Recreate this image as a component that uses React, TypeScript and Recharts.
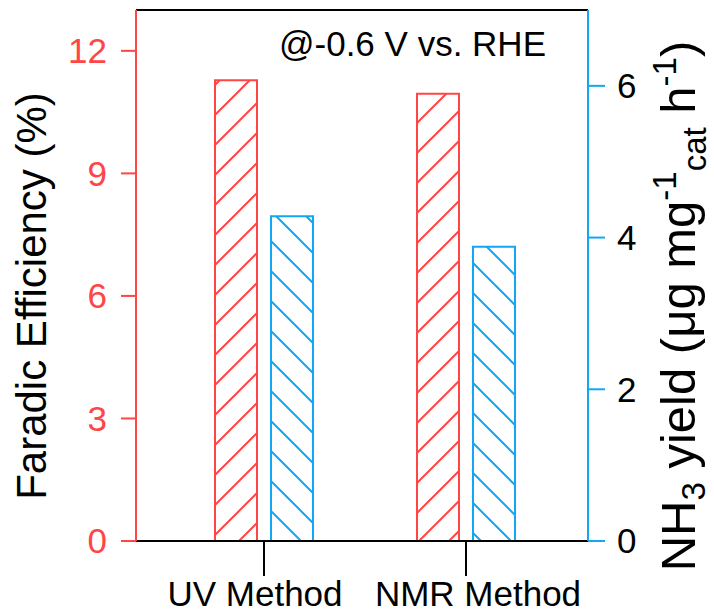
import React from 'react';
import { BarChart, Bar, XAxis, YAxis, ReferenceLine } from 'recharts';

const categories = ['UV Method', 'NMR Method'];
const faradicEfficiency = [11.28, 10.95];
const nh3Yield = [4.28, 3.88];
const leftTicks = [0, 3, 6, 9, 12];
const rightTicks = [0, 2, 4, 6];

const data = categories.map((c, i) => ({ name: c, fe: faradicEfficiency[i], yield: nh3Yield[i] }));

const RED = '#FF4545';
const BLUE = '#12A6F4';
const FONT = '"Liberation Sans", Arial, sans-serif';

const CatTick = (props: any) => {
  const { x, y, payload, index } = props;
  const shift = index === 0 ? -9 : 12;
  return (
    <text x={x + shift} y={y} dy={30} textAnchor="middle" fontSize={35} fontFamily={FONT} fill="#000">
      {payload.value}
    </text>
  );
};

const LeftTitle = () => (
  <text
    x={46}
    y={296}
    transform="rotate(-90, 46, 296)"
    textAnchor="middle"
    fontSize={42}
    fontFamily={FONT}
    fill="#000"
  >
    Faradic Efficiency (%)
  </text>
);

const RightTitle = () => (
  <text
    x={695}
    y={306}
    transform="rotate(-90, 695, 306)"
    textAnchor="middle"
    fontSize={49}
    fontFamily={FONT}
    fill="#000"
  >
    NH
    <tspan fontSize={33} dy={10}>3</tspan>
    <tspan fontSize={49} dy={-10}> yield (μg mg</tspan>
    <tspan fontSize={33} dy={-19}>-1</tspan>
    <tspan fontSize={33} dy={30}>cat</tspan>
    <tspan fontSize={49} dy={-11}> h</tspan>
    <tspan fontSize={33} dy={-19}>-1</tspan>
    <tspan fontSize={49} dy={19}>)</tspan>
  </text>
);

const Note = () => (
  <text x={279} y={56} fontSize={35} fontFamily={FONT} fill="#000">
    @-0.6 V vs. RHE
  </text>
);

export default function App() {
  return (
    <div style={{ position: 'absolute', left: 0, top: 0, background: '#fff' }}>
      <BarChart
        width={714}
        height={613}
        data={data}
        margin={{ top: 10, right: 0, bottom: 0, left: 0 }}
        barSize={42}
        barGap={14}
      >
        <defs>
          <pattern id="hatchRed" patternUnits="userSpaceOnUse" width={30} height={30}>
            <path d="M0,30 L30,0 M-15,15 L15,-15 M15,45 L45,15" stroke={RED} strokeWidth={2} />
          </pattern>
          <pattern id="hatchBlue" patternUnits="userSpaceOnUse" width={30} height={30}>
            <path d="M0,0 L30,30 M-15,15 L15,45 M15,-15 L45,15" stroke={BLUE} strokeWidth={2} />
          </pattern>
        </defs>
        <XAxis
          dataKey="name"
          height={72}
          padding={{ left: 27, right: 21 }}
          tickSize={35}
          tickMargin={0}
          tickLine={{ stroke: '#000', strokeWidth: 2 }}
          axisLine={{ stroke: '#000', strokeWidth: 2 }}
          tick={<CatTick />}
          interval={0}
        />
        <YAxis
          yAxisId="left"
          orientation="left"
          width={136}
          domain={[0, 13]}
          ticks={leftTicks}
          tickSize={15}
          tickMargin={14}
          axisLine={{ stroke: RED, strokeWidth: 2 }}
          tickLine={{ stroke: RED, strokeWidth: 2 }}
          tick={{ fill: RED, fontSize: 35, fontFamily: FONT }}
          label={{ content: () => <LeftTitle /> }}
        />
        <YAxis
          yAxisId="right"
          orientation="right"
          width={126}
          domain={[0, 7]}
          ticks={rightTicks}
          tickSize={17}
          tickMargin={12}
          axisLine={{ stroke: BLUE, strokeWidth: 2 }}
          tickLine={{ stroke: BLUE, strokeWidth: 2 }}
          tick={{ fill: '#000', fontSize: 35, fontFamily: FONT }}
          label={{ content: () => <RightTitle /> }}
        />
        <ReferenceLine
          yAxisId="left"
          y={13}
          stroke="#000"
          strokeWidth={2}
          label={{ content: () => <Note /> }}
        />
        <Bar
          yAxisId="left"
          dataKey="fe"
          fill="url(#hatchRed)"
          stroke={RED}
          strokeWidth={2}
          isAnimationActive={false}
        />
        <Bar
          yAxisId="right"
          dataKey="yield"
          fill="url(#hatchBlue)"
          stroke={BLUE}
          strokeWidth={2}
          isAnimationActive={false}
        />
      </BarChart>
    </div>
  );
}
